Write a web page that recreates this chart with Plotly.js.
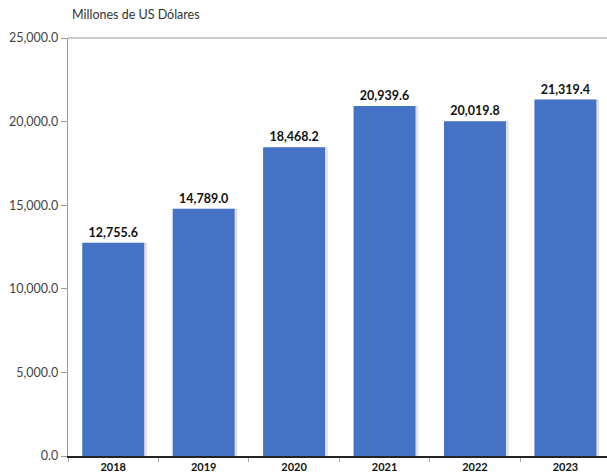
<!DOCTYPE html>
<html>
<head>
<meta charset="utf-8">
<script src="https://cdn.plot.ly/plotly-3.0.1.min.js"></script>
<style>html,body{margin:0;padding:0;background:#fff;}#chart{width:607px;height:474px;}</style>
</head>
<body>
<div id="chart"></div>
<script>
const years = ['2018', '2019', '2020', '2021', '2022', '2023'];
const values = [12755.6, 14789.0, 18468.2, 20939.6, 20019.8, 21319.4];
const yTickValues = [0, 5000, 10000, 15000, 20000, 25000];
const titleText = 'Millones de US Dólares';

const barW = 0.685;
const shadow = {
  type: 'bar', x: years, y: values,
  width: barW, offset: -barW / 2 + 0.03,
  marker: {color: 'rgba(0,0,0,0.12)'},
  hoverinfo: 'skip', showlegend: false
};
const bars = {
  type: 'bar', x: years, y: values,
  width: barW, offset: -barW / 2,
  marker: {color: '#4472C4'},
  text: values.map(v => v.toLocaleString('en-US', {minimumFractionDigits: 1, maximumFractionDigits: 1})),
  textposition: 'outside', cliponaxis: false,
  textfont: {family: 'Lato, sans-serif', size: 12.5, color: '#111', weight: 'bold'},
  showlegend: false
};

const layout = {
  width: 607, height: 474,
  margin: {l: 67.5, r: 0, t: 38, b: 18},
  paper_bgcolor: '#fff', plot_bgcolor: '#fff',
  barmode: 'overlay',
  title: {text: titleText, x: 72 / 607, xanchor: 'left', y: 1 - 15 / 474, yanchor: 'middle',
          font: {family: 'Lato, sans-serif', size: 12.5, color: '#333'}},
  xaxis: {
    type: 'category', range: [-0.5, 5.46],
    showline: true, linecolor: '#222', linewidth: 1.5,
    ticks: 'outside', tickson: 'boundaries', ticklen: 4, tickcolor: '#aaa',
    tickfont: {family: 'Lato, sans-serif', size: 11, color: '#111', weight: 'bold'},
    showgrid: false, zeroline: false, fixedrange: true
  },
  yaxis: {
    range: [0, 25000], tickvals: yTickValues,
    ticktext: yTickValues.map(v => v.toLocaleString('en-US', {minimumFractionDigits: 1, maximumFractionDigits: 1})),
    showline: true, linecolor: '#999', linewidth: 1.2,
    ticks: 'outside', ticklen: 6, tickcolor: '#999',
    tickfont: {family: 'Lato, sans-serif', size: 12.5, color: '#444'},
    showgrid: false, zeroline: false, fixedrange: true
  },
  shapes: [{type: 'line', xref: 'paper', yref: 'paper', x0: 0, x1: 1, y0: 1, y1: 1,
            line: {color: '#999', width: 1.2}}]
};

Plotly.newPlot('chart', [shadow, bars], layout, {displayModeBar: false, staticPlot: true});
</script>
</body>
</html>
